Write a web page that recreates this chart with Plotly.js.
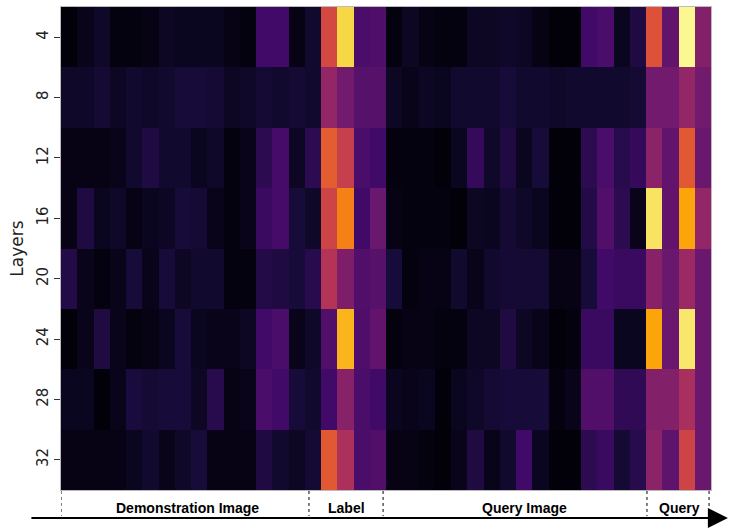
<!DOCTYPE html>
<html>
<head>
<meta charset="utf-8">
<script src="https://cdn.plot.ly/plotly-3.0.1.min.js"></script>
<style>
  html, body { margin: 0; padding: 0; background: #fff; }
  #chart { width: 744px; height: 529px; }
</style>
</head>
<body>
<div id="chart"></div>
<script>
// layer labels on the y axis
const layers = [4, 8, 12, 16, 20, 24, 28, 32];

// attention per token column: 16 demo image, 4 label, 16 query image, 4 query
const layer4  = [0.01,0.04,0.07,0.02,0.02,0.03,0.06,0.05,0.05,0.05,0.03,0.02,0.20,0.20,0.03,0.08,
                 0.57,0.90,0.22,0.23,
                 0.02,0.06,0.03,0.02,0.02,0.06,0.06,0.07,0.06,0.03,0.01,0.01,0.20,0.22,0.05,0.12,
                 0.60,0.28,0.98,0.36];
const layer8  = [0.07,0.07,0.09,0.06,0.08,0.07,0.08,0.10,0.10,0.09,0.06,0.07,0.09,0.08,0.09,0.08,
                 0.40,0.32,0.25,0.25,
                 0.06,0.04,0.06,0.05,0.08,0.08,0.08,0.10,0.08,0.08,0.07,0.08,0.08,0.08,0.08,0.09,
                 0.32,0.32,0.40,0.32];
const layer12 = [0.03,0.03,0.03,0.04,0.08,0.12,0.08,0.08,0.05,0.07,0.02,0.04,0.15,0.21,0.06,0.15,
                 0.63,0.53,0.22,0.20,
                 0.02,0.02,0.02,0.01,0.05,0.17,0.07,0.12,0.05,0.10,0.01,0.01,0.15,0.22,0.14,0.17,
                 0.38,0.28,0.62,0.30];
const layer16 = [0.03,0.12,0.05,0.07,0.03,0.05,0.06,0.10,0.09,0.04,0.02,0.04,0.18,0.21,0.10,0.07,
                 0.55,0.72,0.20,0.30,
                 0.03,0.02,0.02,0.02,0.01,0.06,0.05,0.09,0.07,0.05,0.01,0.01,0.13,0.24,0.15,0.04,
                 0.93,0.28,0.80,0.40];
const layer20 = [0.13,0.04,0.02,0.04,0.10,0.04,0.10,0.06,0.08,0.08,0.02,0.02,0.13,0.12,0.10,0.14,
                 0.48,0.35,0.24,0.25,
                 0.10,0.02,0.03,0.03,0.08,0.04,0.08,0.09,0.09,0.09,0.03,0.03,0.10,0.20,0.18,0.18,
                 0.37,0.30,0.42,0.30];
const layer24 = [0.01,0.04,0.12,0.04,0.02,0.03,0.05,0.10,0.05,0.04,0.04,0.06,0.20,0.22,0.04,0.07,
                 0.24,0.83,0.23,0.28,
                 0.02,0.03,0.03,0.02,0.02,0.06,0.06,0.12,0.06,0.04,0.01,0.02,0.18,0.18,0.05,0.05,
                 0.80,0.30,0.94,0.30];
const layer28 = [0.05,0.05,0.01,0.04,0.11,0.09,0.10,0.10,0.06,0.14,0.03,0.04,0.22,0.20,0.10,0.08,
                 0.20,0.37,0.22,0.20,
                 0.05,0.04,0.05,0.01,0.05,0.07,0.09,0.10,0.10,0.10,0.02,0.04,0.24,0.24,0.16,0.16,
                 0.36,0.36,0.45,0.30];
const layer32 = [0.03,0.03,0.03,0.03,0.05,0.08,0.04,0.07,0.10,0.03,0.03,0.03,0.12,0.08,0.06,0.09,
                 0.62,0.46,0.22,0.24,
                 0.03,0.03,0.02,0.01,0.04,0.12,0.04,0.08,0.20,0.05,0.01,0.01,0.15,0.18,0.09,0.14,
                 0.38,0.27,0.55,0.30];

// section names along the bottom
const sections = ['Demonstration Image', 'Label', 'Query Image', 'Query'];

const z = [layer4, layer8, layer12, layer16, layer20, layer24, layer28, layer32];
const cols = layer4.map((_, i) => i);

const INFERNO = [
  [0.0, '#000004'], [0.1, '#160b39'], [0.2, '#420a68'], [0.3, '#6a176e'],
  [0.4, '#932667'], [0.5, '#bc3754'], [0.6, '#dd513a'], [0.7, '#f37819'],
  [0.8, '#fca50a'], [0.9, '#f6d746'], [1.0, '#fcffa4'],
];

// separator positions (column units) and label centres
const sepX = [-0.5, 14.76, 19.32, 35.56, 39.38];
const labelX = [7.3, 17.05, 28.0, 37.55];
const FONT = 'Liberation Sans, Arial, sans-serif';

const shapes = sepX.map((x) => ({
  type: 'line', xref: 'x', yref: 'paper',
  x0: x, x1: x, y0: -0.002, y1: -0.054,
  line: { color: '#000', width: 1, dash: '3px,3px' },
}));

const annotations = sections.map((s, i) => ({
  text: '<b>' + s + '</b>', x: labelX[i], y: -0.037, xref: 'x', yref: 'paper',
  yanchor: 'middle', xanchor: 'center',
  showarrow: false, font: { family: FONT, size: 14, color: '#000' },
}));
// time arrow under the sections
annotations.push({
  text: '', x: 1.026, y: -0.058, xref: 'paper', yref: 'paper',
  ax: -698, ay: 0, axref: 'pixel', ayref: 'pixel',
  showarrow: true, arrowhead: 2, arrowsize: 2, arrowwidth: 2, arrowcolor: '#000',
});

Plotly.newPlot('chart', [{
  type: 'heatmap',
  x: cols,
  y: layers,
  z: z,
  zmin: 0,
  zmax: 1,
  colorscale: INFERNO,
  showscale: false,
  hoverinfo: 'skip',
}], {
  width: 744,
  height: 529,
  paper_bgcolor: '#fff',
  plot_bgcolor: '#fff',
  margin: { l: 61, r: 33, t: 7, b: 39 },
  font: { family: 'DejaVu Sans, sans-serif', color: '#222' },
  xaxis: {
    range: [-0.5, 39.5], showticklabels: false, ticks: '', showgrid: false,
    zeroline: false, showline: true, linecolor: '#bbb', linewidth: 1, mirror: true,
  },
  yaxis: {
    autorange: 'reversed', tickvals: layers, ticks: 'outside', ticklen: 6,
    tickcolor: '#333', tickangle: -90, tickfont: { size: 15, color: '#222' },
    showgrid: false, zeroline: false, showline: true, linecolor: '#bbb',
    linewidth: 1, mirror: true,
    title: { text: 'Layers', font: { size: 17, color: '#222' }, standoff: 6 },
  },
  shapes: shapes,
  annotations: annotations,
}, { displayModeBar: false, staticPlot: true });
</script>
</body>
</html>
